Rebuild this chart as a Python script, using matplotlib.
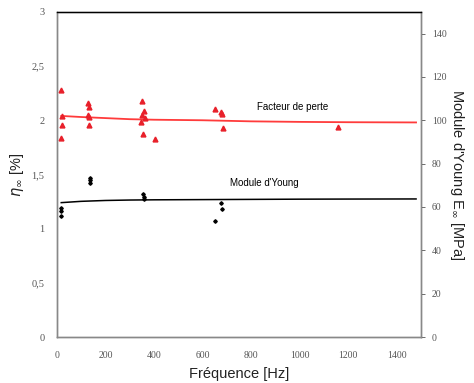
import matplotlib.pyplot as plt
from matplotlib.ticker import FuncFormatter

# --- donnees ---
# facteur de perte (eta, %)
f_eta = [18, 20, 22, 18, 130, 132, 128, 133, 131, 352, 358, 350, 365, 348, 356, 405, 650, 678, 680, 684, 1158]
eta = [2.28, 2.04, 1.96, 1.84, 2.16, 2.12, 2.05, 2.03, 1.96, 2.18, 2.09, 2.05, 2.02, 1.98, 1.87, 1.83, 2.10, 2.08, 2.06, 1.93, 1.94]

# module d'Young (MPa)
f_E = [18, 18, 18, 136, 136, 138, 355, 360, 358, 678, 680, 650]
E = [59.7, 58.3, 56.0, 73.2, 72.3, 71.0, 65.9, 64.8, 63.7, 62.0, 59.0, 53.6]

# courbes lissees
f_fit = [18, 100, 200, 300, 400, 600, 800, 1000, 1200, 1480]
eta_fit = [2.04, 2.03, 2.02, 2.01, 2.005, 2.0, 1.99, 1.985, 1.982, 1.98]
E_fit = [62.0, 62.6, 63.0, 63.2, 63.3, 63.4, 63.5, 63.6, 63.65, 63.7]

grey = '#555555'
serif = 'Liberation Serif'
sans = 'Liberation Sans'

fig = plt.figure(figsize=(4.74, 3.83), dpi=100)
ax = fig.add_axes([0.120, 0.120, 0.768, 0.849])
ax2 = ax.twinx()

ax.plot(f_fit, eta_fit, color='#ff3b3b', lw=1.3, zorder=2)
ax.plot(f_eta, eta, ls='none', marker='^', ms=3.5, color='#e8202a', zorder=3)

ax2.plot(f_fit, E_fit, color='black', lw=1.1)
ax2.plot(f_E, E, ls='none', marker='D', ms=1.8, color='black')

ax.set_xlim(0, 1500)
ax.set_ylim(0, 3)
ax2.set_ylim(0, 150)

ax.set_xticks([0, 200, 400, 600, 800, 1000, 1200, 1400])
ax.set_yticks([0, 0.5, 1, 1.5, 2, 2.5, 3])
ax2.set_yticks([0, 20, 40, 60, 80, 100, 120, 140])
ax.yaxis.set_major_formatter(FuncFormatter(lambda v, p: ('%g' % v).replace('.', ',')))

ax.tick_params(axis='x', length=0, pad=10, labelsize=7, labelcolor=grey)
ax.tick_params(axis='y', length=0, pad=9, labelsize=7.5, labelcolor=grey)
ax2.tick_params(axis='y', length=3, width=0.6, color=grey, pad=5, labelsize=7, labelcolor=grey)
for lab in ax.get_xticklabels() + ax.get_yticklabels() + ax2.get_yticklabels():
    lab.set_family(serif)

for a in (ax, ax2):
    for s in a.spines.values():
        s.set_color('#888888')
        s.set_linewidth(1.0)
ax2.spines['top'].set_color('black')

ax.set_xlabel('Fréquence [Hz]', family=sans, fontsize=10.5, color='#222222', labelpad=5)
ax.set_ylabel(r'$\eta_\infty$ [%]', family=sans, fontsize=10.5, color='#222222', labelpad=4)
ax2.set_ylabel(r"Module d'Young E$_\infty$ [MPa]", family=sans, fontsize=10.5,
               color='#222222', rotation=-90, labelpad=14)

ax.text(972, 2.12, 'Facteur de perte', family=sans, fontsize=7, ha='center', va='center')
ax.text(856, 1.42, "Module d'Young", family=sans, fontsize=7, ha='center', va='center')

fig.savefig('out.png', dpi=100)
